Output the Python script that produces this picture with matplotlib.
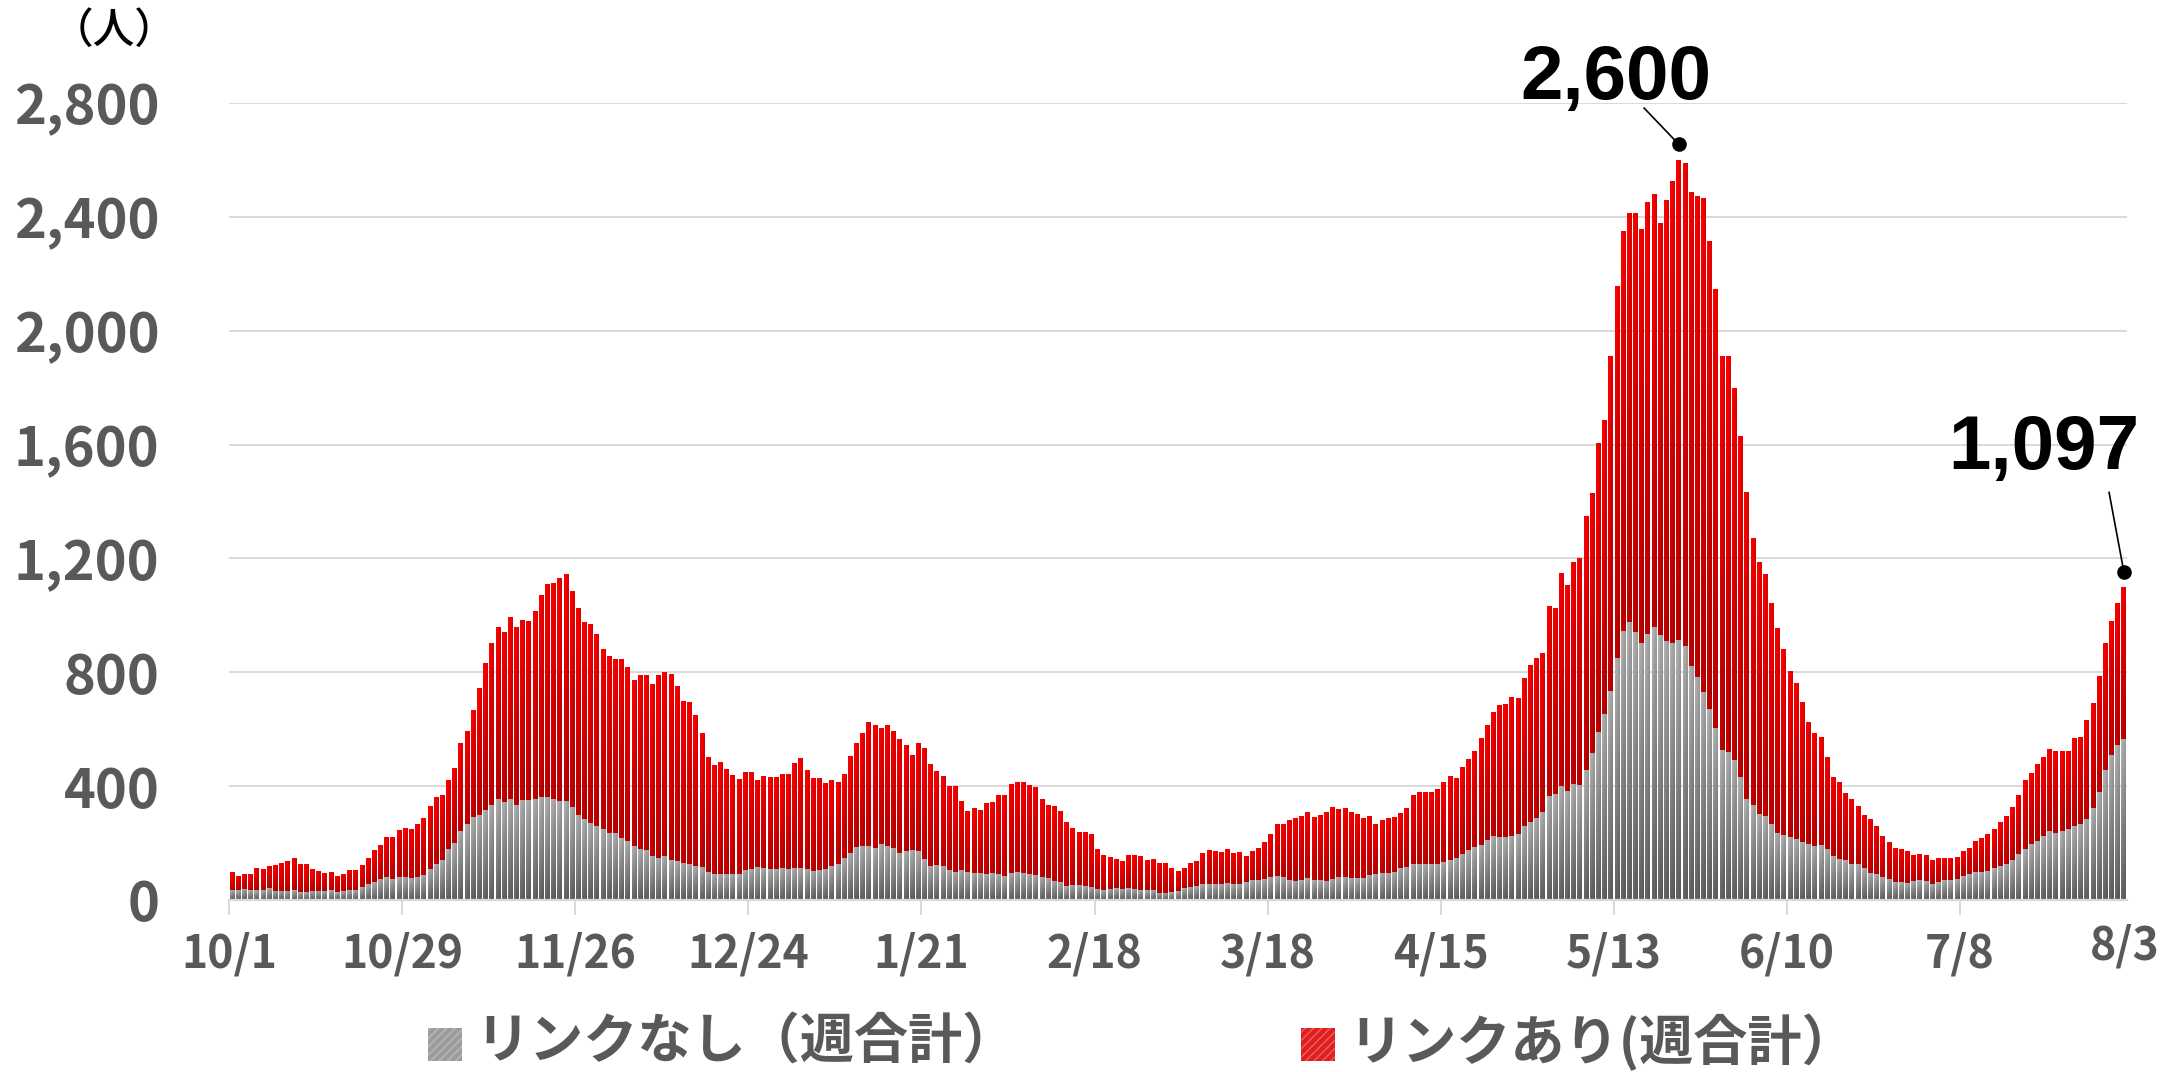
import numpy as np
import pandas as pd
import matplotlib
matplotlib.use("Agg")
import matplotlib.pyplot as plt
from matplotlib.patches import Rectangle

# ---------------- data (weekly totals, daily from 2020-10-01) ----------------
start_date = "2020-10-01"

weekly_total = [
    96, 81, 91, 91, 109, 106, 119, 123, 130, 137,
    147, 123, 123, 106, 99, 95, 95, 84, 91, 102,
    102, 123, 147, 172, 190, 221, 221, 246, 253, 249,
    264, 288, 327, 359, 369, 422, 464, 552, 591, 665,
    742, 830, 901, 957, 940, 993, 957, 982, 978, 1014,
    1070, 1108, 1112, 1129, 1144, 1084, 1024, 975, 968, 933,
    880, 855, 845, 845, 816, 771, 788, 788, 757, 788,
    799, 792, 750, 697, 693, 648, 584, 503, 472, 482,
    457, 436, 422, 447, 447, 419, 436, 429, 429, 440,
    440, 479, 496, 454, 426, 426, 408, 419, 412, 443,
    503, 552, 584, 623, 612, 602, 612, 591, 563, 542,
    507, 549, 531, 475, 450, 436, 401, 398, 348, 310,
    320, 313, 338, 341, 366, 366, 405, 412, 412, 401,
    394, 352, 331, 327, 310, 271, 253, 239, 236, 229,
    179, 155, 148, 141, 134, 155, 155, 151, 137, 141,
    130, 127, 109, 102, 109, 130, 134, 162, 172, 169,
    165, 176, 162, 165, 151, 169, 179, 201, 232, 264,
    267, 278, 285, 292, 306, 289, 296, 306, 324, 317,
    320, 306, 299, 285, 292, 264, 278, 285, 292, 303,
    320, 366, 377, 377, 377, 387, 415, 433, 426, 465,
    493, 524, 567, 612, 658, 683, 686, 711, 707, 778,
    823, 848, 866, 1031, 1024, 1146, 1107, 1185, 1199, 1346,
    1428, 1603, 1684, 1909, 2156, 2349, 2414, 2411, 2356, 2450,
    2481, 2377, 2457, 2524, 2600, 2588, 2485, 2471, 2464, 2313,
    2145, 1909, 1909, 1796, 1628, 1431, 1268, 1188, 1146, 1043,
    956, 878, 801, 760, 693, 625, 586, 569, 499, 429,
    411, 375, 351, 329, 296, 282, 257, 224, 203, 182,
    176, 169, 154, 158, 154, 140, 144, 144, 147, 151,
    169, 179, 203, 214, 228, 249, 273, 294, 323, 368,
    418, 442, 477, 499, 529, 522, 522, 522, 569, 569,
    631, 691, 786, 899, 979, 1042, 1097,
]

no_link = [
    35, 35, 39, 35, 35, 35, 42, 32, 32, 32,
    35, 28, 28, 32, 32, 32, 35, 28, 32, 35,
    35, 46, 56, 63, 74, 81, 74, 81, 81, 77,
    81, 88, 109, 127, 141, 180, 201, 243, 267, 292,
    299, 317, 334, 355, 345, 355, 334, 352, 352, 355,
    362, 362, 355, 348, 348, 327, 299, 285, 271, 260,
    250, 236, 236, 218, 208, 190, 179, 176, 155, 148,
    155, 141, 137, 130, 127, 120, 116, 99, 91, 91,
    91, 91, 91, 106, 109, 116, 113, 109, 109, 113,
    109, 113, 113, 109, 102, 106, 109, 120, 127, 148,
    165, 187, 190, 190, 183, 197, 190, 183, 165, 172,
    176, 172, 144, 120, 123, 120, 106, 99, 106, 99,
    95, 95, 91, 95, 91, 84, 95, 99, 95, 91,
    88, 81, 77, 67, 63, 49, 53, 53, 49, 46,
    39, 35, 39, 42, 39, 42, 39, 35, 35, 35,
    25, 25, 28, 32, 42, 46, 49, 56, 56, 56,
    56, 60, 56, 56, 63, 70, 70, 74, 81, 84,
    81, 70, 67, 70, 77, 70, 70, 67, 74, 81,
    81, 77, 77, 77, 88, 91, 95, 95, 99, 113,
    116, 127, 127, 127, 127, 127, 134, 141, 148, 162,
    176, 187, 194, 211, 225, 222, 222, 225, 232, 260,
    274, 289, 310, 366, 372, 399, 384, 407, 404, 457,
    517, 590, 654, 735, 850, 946, 978, 942, 903, 935,
    960, 932, 910, 903, 914, 893, 822, 783, 731, 671,
    604, 528, 521, 492, 432, 354, 333, 303, 296, 267,
    236, 228, 221, 214, 204, 197, 190, 193, 179, 154,
    143, 140, 126, 126, 112, 94, 90, 81, 74, 63,
    63, 59, 66, 70, 66, 56, 63, 70, 70, 74,
    84, 91, 97, 97, 101, 112, 119, 126, 140, 161,
    178, 196, 207, 224, 242, 235, 242, 249, 260, 266,
    285, 323, 380, 456, 510, 544, 565,
]

tick_labels = ["10/1", "10/29", "11/26", "12/24", "1/21", "2/18", "3/18",
               "4/15", "5/13", "6/10", "7/8"]
last_label = "8/3"
y_ticks = [0, 400, 800, 1200, 1600, 2000, 2400, 2800]
legend_labels = ["リンクなし（週合計）", "リンクあり(週合計）"]
annotated_days = ["2021-05-23", "2021-08-03"]

# ---------------- figure ----------------
plt.rcParams["font.family"] = ["Noto Sans CJK JP", "DejaVu Sans"]
W, H = 2179, 1072
fig = plt.figure(figsize=(W / 100, H / 100), dpi=100)
ax = fig.add_axes([229 / W, 1 - 900 / H, (2127 - 229) / W, (900 - 103) / H])

total = np.array(weekly_total, dtype=float)
gray = np.array(no_link, dtype=float)
red = total - gray
n = len(total)
dates = pd.date_range(start_date, periods=n, freq="D")
x = np.arange(n) + 0.5

GRAY_TOP, GRAY_BOT = np.array([0.68, 0.68, 0.68]), np.array([0.38, 0.38, 0.38])
RED_TOP, RED_BOT = np.array([0.97, 0.0, 0.0]), np.array([0.74, 0.0, 0.0])

bars_gray = ax.bar(x, gray, width=0.78, color="#8C8C8C", zorder=2,
                   label=legend_labels[0])
bars_red = ax.bar(x, red, bottom=gray, width=0.78, color="#E00000", zorder=2,
                  label=legend_labels[1])


def add_gradient(rect, top, bot):
    x0, y0 = rect.get_x(), rect.get_y()
    w, h = rect.get_width(), rect.get_height()
    if h <= 0:
        return
    t = np.linspace(0, 1, 32)[:, None, None]
    img = (1 - t) * top + t * bot
    shade = np.linspace(1.04, 0.9, 6)[None, :, None]
    img = np.clip(img * shade, 0, 1)
    ax.imshow(img, extent=(x0, x0 + w, y0, y0 + h), origin="upper",
              aspect="auto", interpolation="bilinear", zorder=2.5)


for r in bars_gray:
    add_gradient(r, GRAY_TOP, GRAY_BOT)
for r in bars_red:
    add_gradient(r, RED_TOP, RED_BOT)

ax.set_xlim(0, n)
ax.set_ylim(0, 2800)

# grid / spines
ax.set_yticks(y_ticks)
ax.set_yticklabels([f"{v:,}" for v in y_ticks])
ax.yaxis.grid(True, color="#D9D9D9", linewidth=1.4, zorder=0)
ax.set_axisbelow(True)
for s in ["left", "top", "right"]:
    ax.spines[s].set_visible(False)
ax.spines["bottom"].set_color("#D9D9D9")
ax.spines["bottom"].set_linewidth(1.6)
ax.spines["bottom"].set_zorder(3)

ax.tick_params(axis="y", length=0, pad=50, labelsize=39, labelcolor="#595959")
for lbl in ax.get_yticklabels():
    lbl.set_fontweight("bold")

labels_md = [f"{d.month}/{d.day}" for d in dates]
tick_pos = [labels_md.index(t) for t in tick_labels]
ax.set_xticks(tick_pos)
ax.set_xticklabels(tick_labels)
ax.tick_params(axis="x", length=11, width=1.4, color="#D9D9D9", pad=12,
               labelsize=32, labelcolor="#595959")
for lbl in ax.get_xticklabels():
    lbl.set_fontweight("bold")
ax.text(n - 0.3, -0.029, last_label, transform=ax.get_xaxis_transform(),
        ha="center", va="top", fontsize=32, fontweight="bold", color="#595959")

# unit label
fig.text(114 / W, 1 - 30 / H, "（人）", ha="center", va="center",
         fontsize=30, fontweight="medium", color="black")

# annotations
ann_font = ["Liberation Sans", "DejaVu Sans"]
ann_offsets = [(-10.2, 214, -5.6, 182), (-12.9, 417, -2.4, 335)]
for day, (dx_t, dy_t, dx_l, dy_l) in zip(annotated_days, ann_offsets):
    i = int((pd.Timestamp(day) - dates[0]).days)
    xv, yv = x[i], total[i]
    ax.plot([xv], [yv + 55], "o", color="black", ms=9.5, zorder=5, clip_on=False)
    ax.plot([xv + dx_l, xv], [yv + dy_l, yv + 55], color="black", lw=1.2,
            zorder=5, clip_on=False)
    ax.text(xv + dx_t, yv + dy_t, f"{int(yv):,}", ha="center", va="baseline",
            fontsize=55, fontweight="bold", family=ann_font, color="black",
            clip_on=False)

# legend (manual)
leg_items = [(428, "#9C9C9C", "#B9B9B9", legend_labels[0]),
             (1301, "#E02020", "#F06060", legend_labels[1])]
for lx, fc, hc, txt in leg_items:
    rect = Rectangle((lx / W, 1 - 1061 / H), 34 / W, 33 / H,
                     transform=fig.transFigure, facecolor=fc, edgecolor=hc,
                     hatch="////", linewidth=0)
    fig.patches.append(rect)
    fig.text((lx + 47) / W, 1 - 1043 / H, txt, ha="left", va="center",
             fontsize=39, fontweight="bold", color="#595959")

fig.savefig("out.png", dpi=100)
